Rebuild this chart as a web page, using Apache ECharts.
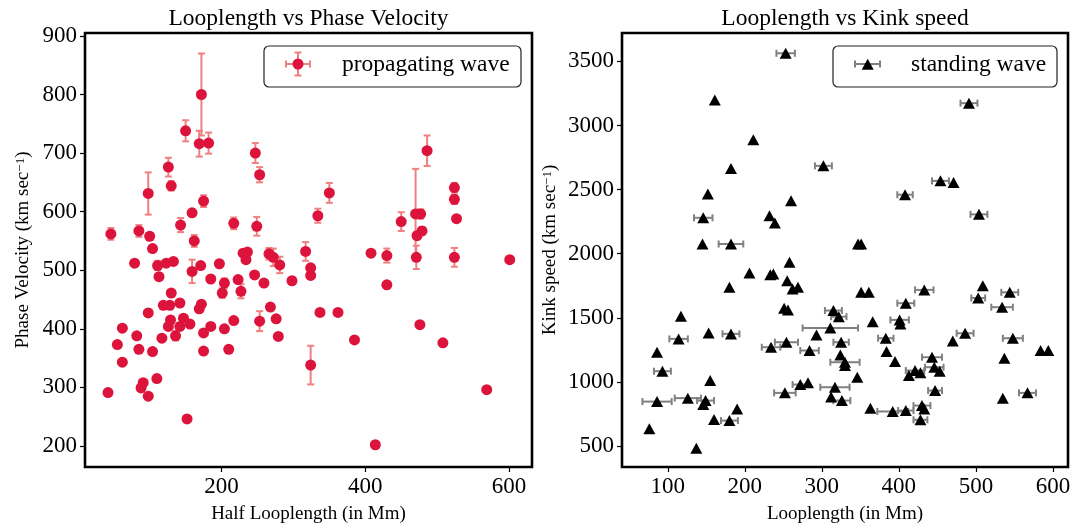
<!DOCTYPE html>
<html>
<head>
<meta charset="utf-8">
<script src="https://cdn.jsdelivr.net/npm/echarts@6/dist/echarts.min.js"></script>
<style>
  html, body { margin: 0; padding: 0; background: #fff; }
  #chart { width: 1075px; height: 529px; }
</style>
</head>
<body>
<div id="chart"></div>
<script>
// Propagating waves: half loop length (Mm), phase velocity (km/s) and its 1-sigma error
const phaseLoop = [46, 85, 100, 104, 98, 126, 130, 150, 172, 169, 182, 143, 159, 175, 162, 217, 247, 253, 249,
  486, 350, 334, 450, 470, 477, 472, 479, 524, 524, 527, 317, 324, 324, 408, 430, 430, 471, 524, 601,
  337, 362, 385, 324, 476, 508, 569, 414,
  79, 111, 123, 133, 113, 159, 171, 197, 185, 204, 201, 223, 227, 230, 236, 234, 246, 259, 266, 272, 281, 298,
  130, 119, 128, 142, 98, 169, 172, 129, 126, 147, 142, 156, 136, 117, 62, 55, 82, 85, 104, 62,
  175, 185, 175, 204, 217, 210, 253, 268, 276, 279, 110, 91, 88, 98, 42, 152];
const phaseVel = [562, 567, 558, 537, 631, 676, 644, 738, 800, 716, 717, 577, 598, 618, 550, 580, 700, 663, 575,
  704, 632, 593, 583, 596, 596, 559, 567, 641, 621, 588, 532, 504, 491, 529, 525, 475, 522, 522, 518,
  428, 428, 381, 338, 407, 376, 296, 202,
  512, 508, 512, 515, 489, 498, 508, 511, 485, 478, 461, 484, 464, 529, 531, 518, 492, 478, 528, 522, 509, 482,
  461, 440, 440, 444, 427, 434, 442, 415, 404, 418, 404, 408, 388, 384, 401, 373, 388, 365, 361, 343,
  393, 404, 362, 400, 414, 365, 413, 437, 417, 387, 315, 308, 299, 285, 291, 246];
const phaseErr = [10, 10, 4, 4, 36, 16, 8, 18, 70, 22, 18, 12, 4, 10, 10, 10, 17, 13, 16,
  26, 17, 12, 16, 77, 8, 6, 6, 8, 8, 4, 16, 4, 4, 4, 12, 4, 20, 16, 4,
  4, 4, 4, 33, 4, 4, 4, 4,
  4, 8, 4, 4, 4, 20, 4, 4, 4, 8, 8, 4, 12, 4, 4, 4, 4, 4, 10, 15, 14, 4,
  4, 4, 4, 4, 4, 4, 4, 4, 4, 4, 4, 4, 8, 4, 4, 4, 4, 4, 4, 4,
  4, 4, 4, 4, 4, 4, 17, 4, 4, 4, 4, 4, 4, 4, 4, 4];

// Standing waves: loop length (Mm), kink speed (km/s) and loop length error
const kinkLoop = [253, 161, 211, 182, 302, 152, 260, 146, 232, 239, 145, 182, 491, 454, 471, 408, 504, 347, 351,
  258, 206, 233, 237, 255, 262, 269, 180, 251, 256, 117, 114, 153, 182, 234, 254, 284, 293, 311, 86, 93, 155,
  86, 126, 149, 146, 76, 137, 160, 180, 190, 252, 272, 282,
  351, 361, 433, 409, 509, 503, 544, 534, 315, 322, 366, 401, 402, 383, 325, 486, 470, 548, 584, 594, 537,
  324, 330, 330, 384, 395, 443, 446, 453, 421, 428, 413, 346, 317, 312, 326, 447, 363, 392, 409, 430, 433, 428, 535, 567];
const kinkSpeed = [3563, 3199, 2888, 2665, 2685, 2465, 2413, 2280, 2296, 2239, 2076, 2076, 3174, 2568, 2556, 2460, 2307, 2076, 2076,
  1933, 1850, 1836, 1842, 1790, 1725, 1738, 1738, 1575, 1562, 1512, 1336, 1382, 1375, 1271, 1310, 1245, 1367, 1421, 1232, 1084, 1011,
  847, 874, 855, 824, 635, 484, 707, 699, 790, 915, 980, 993,
  1699, 1699, 1718, 1614, 1751, 1655, 1699, 1583, 1557, 1509, 1470, 1484, 1452, 1341, 1310, 1380, 1320, 1341, 1245, 1245, 1185,
  1211, 1154, 1128, 1237, 1159, 1193, 1115, 1084, 1089, 1071, 1050, 1037, 959, 882, 855, 933, 796, 770, 777, 816, 790, 705, 874, 915];
const kinkLoopErr = [12, 0, 0, 0, 11, 0, 0, 12, 0, 0, 0, 16, 11, 11, 0, 10, 11, 0, 0,
  0, 0, 0, 0, 0, 0, 0, 0, 0, 0, 0, 12, 0, 11, 12, 15, 12, 0, 36, 0, 11, 0,
  19, 17, 11, 0, 0, 0, 0, 11, 0, 14, 10, 0,
  0, 0, 12, 11, 0, 9, 11, 14, 11, 10, 0, 12, 0, 10, 10, 11, 0, 13, 0, 0, 0,
  0, 19, 0, 0, 0, 13, 12, 0, 12, 0, 0, 0, 19, 0, 11, 9, 0, 20, 10, 11, 0, 9, 0, 11];

// Tick labels
const leftXTicks = [200, 400, 600];
const leftYTicks = [200, 300, 400, 500, 600, 700, 800, 900];
const rightXTicks = [100, 200, 300, 400, 500, 600];
const rightYTicks = [500, 1000, 1500, 2000, 2500, 3000, 3500];

const SERIF = "'Liberation Serif', 'DejaVu Serif', serif";
const RED = '#DC143C', CORAL = '#F08080', GRAY = '#808080';

const chart = echarts.init(document.getElementById('chart'), null, { renderer: 'canvas' });

// Vertical error bar with caps
function yErrItem(params, api) {
  const x = api.value(0), y = api.value(1), e = api.value(2);
  if (!e) return null;
  const t = api.coord([x, y + e]), b = api.coord([x, y - e]);
  const c = 3.5, style = { stroke: CORAL, lineWidth: 2 };
  return { type: 'group', children: [
    { type: 'line', shape: { x1: t[0], y1: t[1], x2: b[0], y2: b[1] }, style },
    { type: 'line', shape: { x1: t[0] - c, y1: t[1], x2: t[0] + c, y2: t[1] }, style },
    { type: 'line', shape: { x1: b[0] - c, y1: b[1], x2: b[0] + c, y2: b[1] }, style }
  ] };
}
// Horizontal error bar with caps
function xErrItem(params, api) {
  const x = api.value(0), y = api.value(1), e = api.value(2);
  if (!e) return null;
  const l = api.coord([x - e, y]), r = api.coord([x + e, y]);
  const c = 3.5, style = { stroke: GRAY, lineWidth: 2 };
  return { type: 'group', children: [
    { type: 'line', shape: { x1: l[0], y1: l[1], x2: r[0], y2: r[1] }, style },
    { type: 'line', shape: { x1: l[0], y1: l[1] - c, x2: l[0], y2: l[1] + c }, style },
    { type: 'line', shape: { x1: r[0], y1: r[1] - c, x2: r[0], y2: r[1] + c }, style }
  ] };
}

const tickLabel = { color: '#000', fontFamily: SERIF, fontSize: 23, margin: 8, formatter: v => String(v) };
const tickStyle = { show: true, length: 5, lineStyle: { color: '#000', width: 1.2 } };
const nameStyle = {
  color: '#000', fontFamily: SERIF, fontSize: 19,
  rich: { sup: { fontFamily: SERIF, fontSize: 13, verticalAlign: 'top', color: '#000' } }
};

function xAxis(idx, min, max, ticks, name) {
  return {
    type: 'value', gridIndex: idx, min, max,
    axisLine: { show: false }, splitLine: { show: false },
    axisTick: Object.assign({ customValues: ticks }, tickStyle),
    axisLabel: Object.assign({ customValues: ticks }, tickLabel),
    name, nameLocation: 'middle', nameGap: 38, nameTextStyle: nameStyle
  };
}
function yAxis(idx, min, max, ticks, name, gap) {
  return {
    type: 'value', gridIndex: idx, min, max,
    axisLine: { show: false }, splitLine: { show: false },
    axisTick: Object.assign({ customValues: ticks }, tickStyle),
    axisLabel: Object.assign({ customValues: ticks }, tickLabel),
    name, nameLocation: 'middle', nameRotate: 90, nameGap: gap, nameTextStyle: nameStyle
  };
}

// Legend boxes
function legendBox(x, y, w, h) {
  return { type: 'rect', shape: { x, y, width: w, height: h, r: 5 },
    style: { fill: '#fff', stroke: '#222', lineWidth: 1.2 }, z: 100 };
}
const lg = { fontFamily: SERIF, fontSize: 23.5, fill: '#000' };

const option = {
  animation: false,
  backgroundColor: '#fff',
  title: [
    { text: 'Looplength vs Phase Velocity', left: 308.5, top: 7, textAlign: 'center', padding: 0,
      textStyle: { fontFamily: SERIF, fontSize: 23.5, fontWeight: 'normal', color: '#000' } },
    { text: 'Looplength vs Kink speed', left: 845, top: 7, textAlign: 'center', padding: 0,
      textStyle: { fontFamily: SERIF, fontSize: 23.5, fontWeight: 'normal', color: '#000' } }
  ],
  grid: [
    { left: 85, top: 33, width: 447, height: 435, show: true, borderColor: '#000', borderWidth: 2.6, backgroundColor: 'transparent' },
    { left: 622, top: 33, width: 446, height: 435, show: true, borderColor: '#000', borderWidth: 2.6, backgroundColor: 'transparent' }
  ],
  xAxis: [
    xAxis(0, 10, 632, leftXTicks, 'Half Looplength (in Mm)'),
    xAxis(1, 40.5, 619.6, rightXTicks, 'Looplength (in Mm)')
  ],
  yAxis: [
    yAxis(0, 164, 905, leftYTicks, 'Phase Velocity (km sec{sup|−1})', 52),
    yAxis(1, 337, 3721, rightYTicks, 'Kink speed (km sec{sup|−1})', 62)
  ],
  series: [
    { type: 'custom', xAxisIndex: 0, yAxisIndex: 0, renderItem: yErrItem, silent: true, z: 2,
      encode: { x: 0, y: 1 },
      data: phaseLoop.map((x, i) => [x, phaseVel[i], phaseErr[i]]) },
    { type: 'scatter', xAxisIndex: 0, yAxisIndex: 0, symbol: 'circle', symbolSize: 11, z: 3,
      itemStyle: { color: RED, opacity: 1 },
      data: phaseLoop.map((x, i) => [x, phaseVel[i]]) },
    { type: 'custom', xAxisIndex: 1, yAxisIndex: 1, renderItem: xErrItem, silent: true, z: 2,
      encode: { x: 0, y: 1 },
      data: kinkLoop.map((x, i) => [x, kinkSpeed[i], kinkLoopErr[i]]) },
    { type: 'scatter', xAxisIndex: 1, yAxisIndex: 1, symbol: 'triangle', symbolSize: [12, 11], z: 3,
      itemStyle: { color: '#000', opacity: 1 },
      data: kinkLoop.map((x, i) => [x, kinkSpeed[i]]) }
  ],
  graphic: [
    // propagating wave legend
    legendBox(264, 46, 257, 41),
    { type: 'line', shape: { x1: 286, y1: 64, x2: 310, y2: 64 }, style: { stroke: CORAL, lineWidth: 2 }, z: 101 },
    { type: 'line', shape: { x1: 286, y1: 60.5, x2: 286, y2: 67.5 }, style: { stroke: CORAL, lineWidth: 2 }, z: 101 },
    { type: 'line', shape: { x1: 310, y1: 60.5, x2: 310, y2: 67.5 }, style: { stroke: CORAL, lineWidth: 2 }, z: 101 },
    { type: 'line', shape: { x1: 298, y1: 52.5, x2: 298, y2: 75.5 }, style: { stroke: CORAL, lineWidth: 2 }, z: 101 },
    { type: 'line', shape: { x1: 294.5, y1: 52.5, x2: 301.5, y2: 52.5 }, style: { stroke: CORAL, lineWidth: 2 }, z: 101 },
    { type: 'line', shape: { x1: 294.5, y1: 75.5, x2: 301.5, y2: 75.5 }, style: { stroke: CORAL, lineWidth: 2 }, z: 101 },
    { type: 'circle', shape: { cx: 298, cy: 64, r: 5.5 }, style: { fill: RED }, z: 102 },
    { type: 'text', x: 342, y: 65, style: Object.assign({ text: 'propagating wave', verticalAlign: 'middle' }, lg), z: 102 },
    // standing wave legend
    legendBox(833, 46, 224, 41),
    { type: 'line', shape: { x1: 855, y1: 64, x2: 880, y2: 64 }, style: { stroke: GRAY, lineWidth: 2 }, z: 101 },
    { type: 'line', shape: { x1: 855, y1: 60.5, x2: 855, y2: 67.5 }, style: { stroke: GRAY, lineWidth: 2 }, z: 101 },
    { type: 'line', shape: { x1: 880, y1: 60.5, x2: 880, y2: 67.5 }, style: { stroke: GRAY, lineWidth: 2 }, z: 101 },
    { type: 'polygon', shape: { points: [[867.7, 58.8], [861.7, 69.8], [873.7, 69.8]] }, style: { fill: '#000' }, z: 102 },
    { type: 'text', x: 911, y: 65, style: Object.assign({ text: 'standing wave', verticalAlign: 'middle' }, lg), z: 102 }
  ]
};
chart.setOption(option);
</script>
</body>
</html>
